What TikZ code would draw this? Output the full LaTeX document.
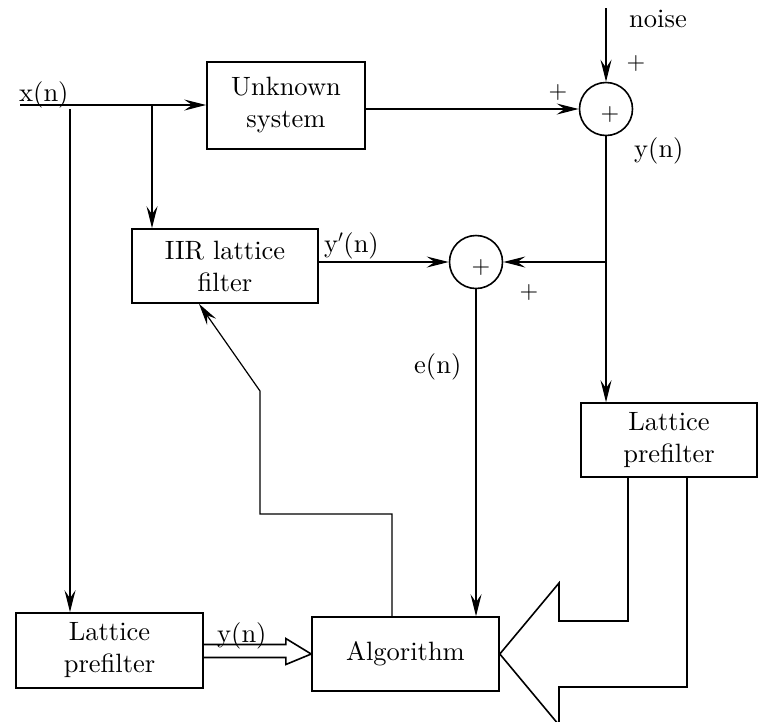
\documentclass[tikz,border=0pt]{standalone}
\usepackage{fontspec}
\setmainfont{lmroman10-regular.otf}
\usetikzlibrary{arrows.meta,calc}
\begin{document}
\begin{tikzpicture}[x=1pt,y=-1pt,
  box/.style={draw, line width=1.6pt, align=center, inner sep=0pt, font=\fontsize{26.5}{32}\selectfont},
  sumnode/.style={draw, circle, line width=1.6pt, minimum size=53pt, inner sep=0pt},
  lbl/.style={font=\fontsize{26.5}{30}\selectfont, inner sep=0pt},
  pl/.style={font=\fontsize{24}{24}\selectfont, inner sep=0pt},
  conn/.style={line width=1.1pt},
  arr/.style={conn, -{Stealth[length=22pt,width=11pt,inset=8pt]}},
  hollow/.style={line width=1.6pt, line join=miter},
  ]
\useasboundingbox (0,0) rectangle (759,721);

% blocks
\node[box, minimum width=158pt, minimum height=87pt] (us) at (286,105.5) {Unknown\\system};
\node[sumnode] (s1) at (606,109) {};
\node[box, minimum width=186pt, minimum height=74pt] (iir) at (225,266) {IIR lattice\\filter};
\node[sumnode] (s2) at (476,262) {};
\node[box, minimum width=176pt, minimum height=74pt] (rp) at (669,440) {Lattice\\prefilter};
\node[box, minimum width=187pt, minimum height=75pt] (lp) at (109.5,650.5) {Lattice\\prefilter};
\node[box, minimum width=187pt, minimum height=74pt] (alg) at (405.5,654) {Algorithm};

% signs inside summers
\node[pl] (p1) at (610,114) {+};
\node[pl] (p2) at (481,267) {+};

% coordinates
\coordinate (xin) at (20,105);
\coordinate (nz) at (606,8);
\coordinate (j1) at (606,262);
\coordinate (b1) at (70,109);
\coordinate (b2) at (152,105);
\coordinate (f1) at (392,514);
\coordinate (f2) at (260,514);
\coordinate (f3) at (260,391);
\coordinate (f4) at (199,0);
\coordinate (ba1) at (628,0);
\coordinate (ba2) at (687,0);

% connectors
\draw[arr] (nz) -- (s1.north);
\draw[arr] (xin) -- (us.west |- xin);
\draw[arr] (us.east |- s1.west) -- (s1.west);
\draw[conn] (s1.south) -- (j1);
\draw[arr] (j1) -- (rp.north -| j1);
\draw[arr] (j1) -- (s2.east);
\draw[arr] (iir.east |- s2.west) -- (s2.west);
\draw[arr] (s2.south) -- (alg.north -| s2.south);
\draw[arr] (b1) -- (lp.north -| b1);
\draw[arr] (b2) -- (iir.north -| b2);
\draw[arr, line width=1.2pt] (alg.north -| f1) -- (f1) -- (f2) -- (f3) -- (iir.south -| f4);

% hollow arrow from left prefilter to algorithm
\draw[hollow] ($(lp.east)+(0,-6)$) -- ($(lp.east)+(82,-6)$) -- ($(lp.east)+(82,-12)$)
  -- (alg.west) -- ($(lp.east)+(82,14)$) -- ($(lp.east)+(82,7)$) -- ($(lp.east)+(0,7)$);

% big hollow arrow from right prefilter to algorithm
\draw[hollow] (rp.south -| ba1) -- (628,621) -- (559,621) -- (559,583) -- (alg.east)
  -- (559,725) -- (559,687) -- (687,687) -- (rp.south -| ba2);

% labels
\node[lbl, anchor=base west] (lx) at (19,101) {x(n)};
\node[lbl, anchor=base west] (lnoise) at (629,27) {noise};
\node[pl] (pn) at (636,63) {+};
\node[pl] (pu) at (558,92) {+};
\node[lbl, anchor=base west] (ly1) at (634,157) {y(n)};
\node[lbl, anchor=base west] (lyp) at (324,252) {y$'$(n)};
\node[pl] (pr) at (529,292) {+};
\node[lbl, anchor=base west] (le) at (414,373) {e(n)};
\node[lbl, anchor=base west] (ly2) at (217,642) {y(n)};
\end{tikzpicture}
\end{document}
